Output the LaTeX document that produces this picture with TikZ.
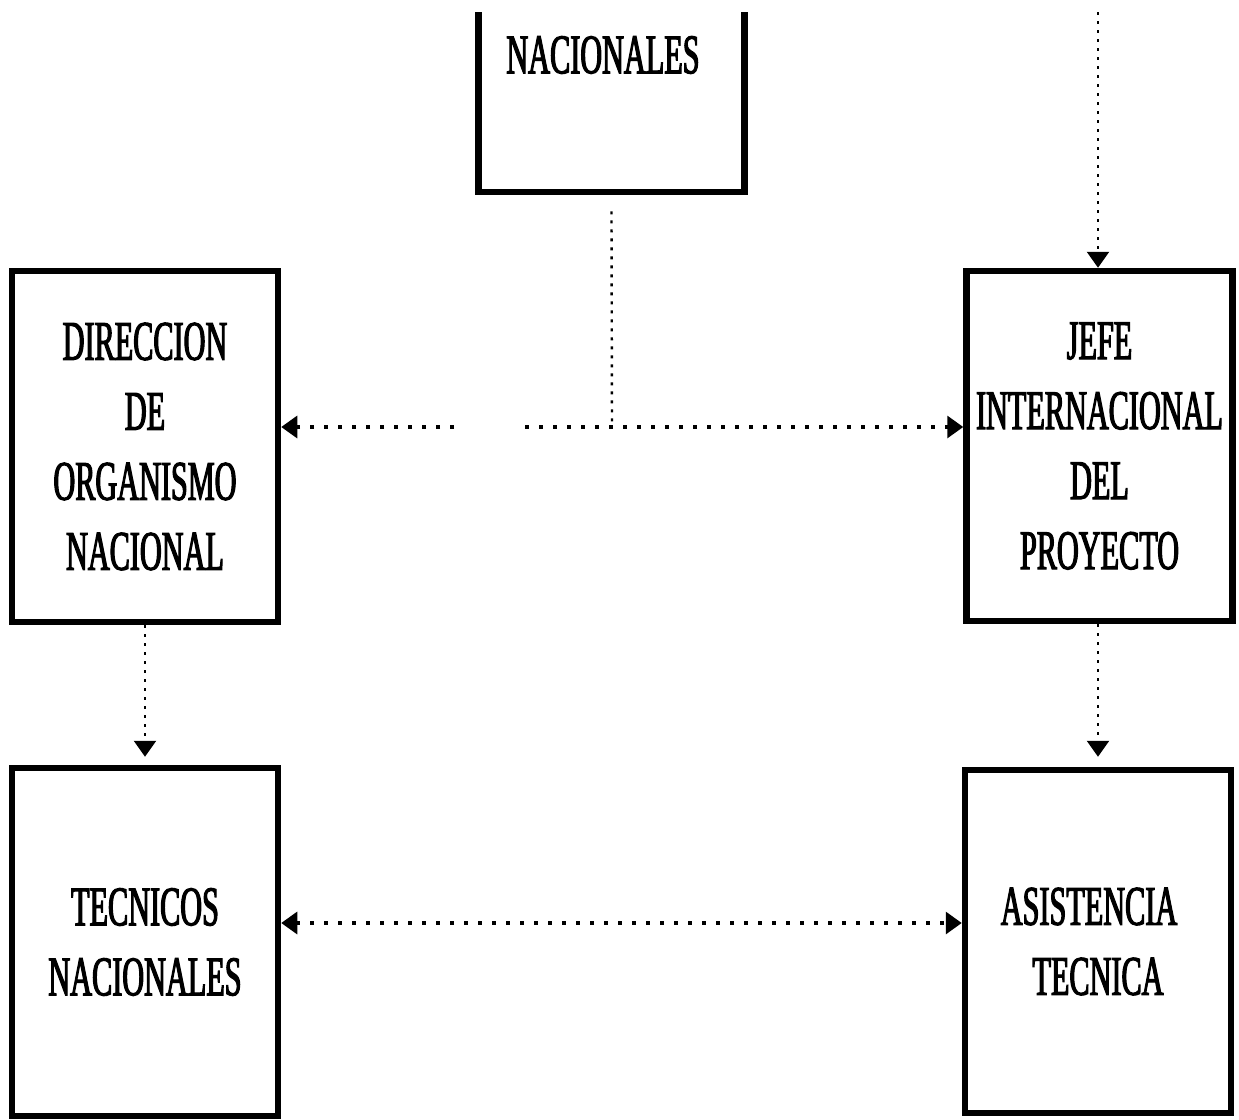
\documentclass[tikz,border=0pt]{standalone}
\usepackage{fontspec}
\newfontfamily\boxfont[FakeStretch=0.54,FakeBold=2]{Liberation Serif}
\usetikzlibrary{arrows.meta}
\begin{document}
\begin{tikzpicture}[x=0.5pt,y=-0.5pt,
  box/.style={draw, line width=3.25pt, minimum width=133pt, inner sep=0pt,
    align=center, font=\boxfont\fontsize{28}{35}\selectfont},
  lbl/.style={inner sep=0pt, font=\boxfont\fontsize{28}{35}\selectfont},
  hlink/.style={line width=1.6pt, dash pattern=on 2pt off 5pt},
  vlink/.style={line width=1.2pt, dash pattern=on 1.5pt off 3pt},
  tip/.style={-{Triangle[length=8pt,width=11pt]}},
  tips/.style={{Triangle[length=8pt,width=11pt]}-{Triangle[length=8pt,width=11pt]}}
]
\useasboundingbox (0,0) rectangle (1239,1120);
\fill[white] (0,0) rectangle (1239,1120);

% top box (cut by the page edge)
\begin{scope}
  \clip (0,12) rectangle (1239,1120);
  \node[box, minimum height=111pt] (nac) at (611.5,81) {};
\end{scope}
\node[lbl] (nact) at (603,55) {NACIONALES};

\node[box, minimum height=175.5pt] (dir) at (145,446.5)
  {DIRECCION\\DE\\ORGANISMO\\NACIONAL};
\node[box, minimum height=175pt] (jefe) at (1099.5,446)
  {JEFE\\INTERNACIONAL\\DEL\\PROYECTO};
\node[box, minimum height=174pt] (tec) at (145,942)
  {TECNICOS\\NACIONALES};
\node[box, minimum height=171.5pt] (asis) at (1098,941.5)
  {ASISTENCIA\hspace*{9pt}\\TECNICA};

\coordinate (junc) at (612,427);
\coordinate (gapl) at (454,427);
\coordinate (gapr) at (525,427);
\coordinate (topr) at (1098,12);
\coordinate (low) at (600,923);

\draw[vlink] (nac.south) ++(0,16) -- (junc);
\draw[hlink,tip] (gapl) -- (dir.east |- junc);
\draw[hlink,tip] (gapr) -- (jefe.west |- junc);
\draw[vlink,tip] (topr) -- (jefe.north -| topr);
\draw[vlink,tip,shorten >=4pt] (dir.south) -- (tec.north);
\draw[vlink,tip,shorten >=5pt] (jefe.south -| topr) -- (asis.north -| topr);
\draw[hlink,tips] (tec.east |- low) -- (asis.west |- low);
\end{tikzpicture}
\end{document}
